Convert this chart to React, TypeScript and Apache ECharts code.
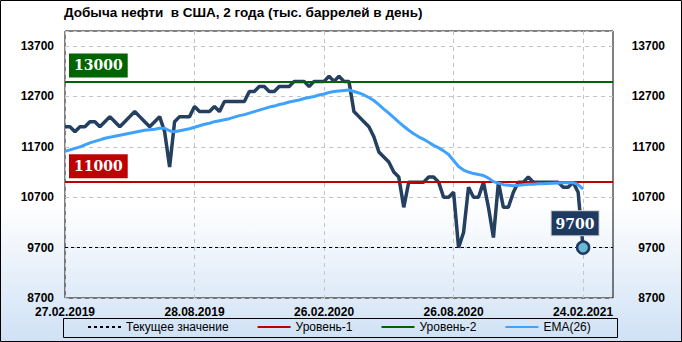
import React, { useEffect, useRef } from "react";
import * as echarts from "echarts";

const TITLE = "Добыча нефти  в США, 2 года (тыс. баррелей в день)";
const START_DATE = "2019-02-27";
const TOTAL_WEEKS = 111; // axis length in weekly categories (data + empty space on the right)

const production: number[] = [
  12100, 12100, 12000, 12100, 12100, 12200, 12200, 12100, 12200, 12300,
  12200, 12100, 12200, 12300, 12400, 12300, 12200, 12100, 12200, 12300,
  12000, 11300, 12200, 12300, 12300, 12300, 12500, 12400, 12400, 12400,
  12500, 12400, 12600, 12600, 12600, 12600, 12600, 12800, 12800, 12900,
  12900, 12800, 12800, 12900, 12900, 12900, 13000, 13000, 13000, 12900,
  13000, 13000, 13000, 13100, 13000, 13100, 13000, 13000, 12400, 12300,
  12200, 12100, 11900, 11600, 11500, 11400, 11200, 11100, 10500, 11000,
  11000, 11000, 11000, 11100, 11100, 11000, 10700, 10700, 10800, 9700,
  10000, 10900, 10700, 10700, 11000, 10500, 9900, 11000, 10500, 10500,
  10800, 11000, 11000, 11100, 11000, 11000, 11000, 11000, 11000, 11000,
  10900, 10900, 11000, 10800, 9700,
];

const ema26: number[] = [
  11610, 11640, 11670, 11700, 11740, 11780, 11810, 11840, 11870, 11890,
  11910, 11930, 11950, 11970, 11990, 12010, 12030, 12040, 12050, 12070,
  12070, 12020, 12000, 12020, 12040, 12060, 12090, 12120, 12150, 12170,
  12200, 12220, 12240, 12260, 12290, 12320, 12340, 12370, 12400, 12430,
  12460, 12490, 12510, 12540, 12560, 12590, 12610, 12630, 12660, 12680,
  12700, 12730, 12750, 12780, 12800, 12810, 12820, 12830, 12800, 12770,
  12730, 12680, 12620, 12540, 12450, 12370, 12280, 12190, 12110, 12030,
  11960, 11900, 11850, 11790, 11730, 11680, 11620, 11550, 11430, 11310,
  11240, 11200, 11170, 11150, 11130, 11080, 11010, 10980, 10950, 10940,
  10930, 10940, 10950, 10960, 10960, 10970, 10970, 10975, 10980, 10985,
  10990, 10990, 10990, 10950, 10860,
];

const LEVEL_1 = 11000;
const LEVEL_2 = 13000;
const Y_MIN = 8700;
const Y_MAX = 14000;
const Y_STEP = 1000;
const LABEL_EVERY = 26;

const LEGEND_NAMES = ["Текущее значение", "Уровень-1", "Уровень-2", "EMA(26)"];

function weeklyCategories(start: string, n: number): string[] {
  const out: string[] = [];
  const t0 = Date.parse(start + "T00:00:00Z");
  for (let i = 0; i < n; i++) {
    const d = new Date(t0 + i * 7 * 86400000);
    const dd = String(d.getUTCDate()).padStart(2, "0");
    const mm = String(d.getUTCMonth() + 1).padStart(2, "0");
    out.push(`${dd}.${mm}.${d.getUTCFullYear()}`);
  }
  return out;
}

const categories = weeklyCategories(START_DATE, TOTAL_WEEKS);

export default function App() {
  const ref = useRef<HTMLDivElement>(null);

  useEffect(() => {
    document.body.style.margin = "0";
    if (!ref.current) return;
    const chart = echarts.init(ref.current, null, { renderer: "svg" });
    const lastIdx = production.length - 1;
    const lastVal = production[lastIdx];

    const boxLabel = (bg: string, text: string) => ({
      show: true,
      position: "insideStartTop",
      formatter: text,
      backgroundColor: bg,
      color: "#ffffff",
      fontFamily: "DejaVu Serif",
      fontWeight: "bold",
      fontSize: 14,
      lineHeight: 16,
      padding: [4, 5, 4, 5],
      distance: 4,
    });

    const axisLabelStyle = {
      color: "#000",
      fontFamily: "Liberation Sans",
      fontWeight: "bold",
      fontSize: 12,
      lineHeight: 12,
    };
    const plain = (v: number) => String(v);

    chart.setOption({
      animation: false,
      backgroundColor: {
        type: "linear",
        x: 0,
        y: 0,
        x2: 0,
        y2: 1,
        colorStops: [
          { offset: 0, color: "#ffffff" },
          { offset: 0.6, color: "#ffffff" },
          { offset: 1, color: "#cfe1f5" },
        ],
      },
      title: {
        text: TITLE,
        left: 64,
        top: 5,
        padding: 0,
        textStyle: {
          fontFamily: "Liberation Sans",
          fontWeight: "bold",
          fontSize: 13.5,
          color: "#000",
        },
      },
      grid: {
        left: 65,
        right: 69,
        top: 31,
        bottom: 44,
        show: true,
        borderColor: "#000",
        borderWidth: 1,
        backgroundColor: "transparent",
      },
      legend: {
        data: LEGEND_NAMES,
        left: 87,
        top: 321,
        padding: 0,
        itemWidth: 33,
        itemHeight: 12,
        itemGap: 28,
        itemStyle: { opacity: 0 },
        textStyle: { fontFamily: "Liberation Sans", fontSize: 12, color: "#000" },
        selectedMode: false,
      },
      graphic: [
        {
          type: "rect",
          shape: { x: 63.5, y: 318.5, width: 554, height: 19 },
          style: { fill: "none", stroke: "#000", lineWidth: 1 },
          silent: true,
        },
        {
          type: "rect",
          shape: { x: 0.5, y: 0.5, width: 681, height: 341 },
          style: { fill: "none", stroke: "#000", lineWidth: 1 },
          silent: true,
        },
      ],
      xAxis: {
        type: "category",
        boundaryGap: false,
        data: categories,
        axisLine: { show: false },
        axisTick: { show: false },
        axisLabel: { ...axisLabelStyle, interval: LABEL_EVERY - 1, margin: 8 },
        splitLine: {
          show: true,
          interval: LABEL_EVERY - 1,
          lineStyle: { color: "#c4c4c4", type: [4, 4], width: 1 },
        },
      },
      yAxis: [
        {
          type: "value",
          position: "left",
          min: Y_MIN,
          max: Y_MAX,
          interval: Y_STEP,
          axisLine: { show: false },
          axisTick: { show: false },
          axisLabel: { ...axisLabelStyle, formatter: plain, showMaxLabel: false, margin: 11 },
          splitLine: { show: true, lineStyle: { color: "#c4c4c4", type: [4, 4], width: 1 } },
        },
        {
          type: "value",
          position: "right",
          min: Y_MIN,
          max: Y_MAX,
          interval: Y_STEP,
          axisLine: { show: false },
          axisTick: { show: false },
          axisLabel: {
            ...axisLabelStyle,
            formatter: plain,
            showMaxLabel: false,
            align: "right",
            margin: 52,
          },
          splitLine: { show: false },
        },
      ],
      series: [
        {
          name: "Добыча",
          type: "line",
          data: production,
          symbol: "none",
          z: 3,
          lineStyle: { color: "#243f60", width: 3.5 },
          itemStyle: { color: "#243f60" },
          markPoint: {
            symbol: "circle",
            symbolSize: 12,
            z: 20,
            itemStyle: { color: "#6ab8d4", borderColor: "#1f3a5f", borderWidth: 2.5 },
            label: {
              show: true,
              position: "top",
              distance: 5,
              offset: [-8, 0],
              formatter: String(lastVal),
              backgroundColor: "#1f3a5f",
              borderColor: "#d0d0d0",
              borderWidth: 1,
              color: "#ffffff",
              fontFamily: "DejaVu Serif",
              fontWeight: "bold",
              fontSize: 14,
              lineHeight: 17,
              padding: [4, 4, 3, 4],
            },
            data: [{ coord: [categories[lastIdx], lastVal], value: lastVal }],
          },
        },
        {
          name: "Текущее значение",
          type: "line",
          data: [],
          symbol: "none",
          z: 4,
          color: "#000",
          lineStyle: { color: "#000", width: 1, type: [3, 3] },
          markLine: {
            silent: true,
            symbol: ["none", "none"],
            label: { show: false },
            lineStyle: { color: "#000", width: 1, type: [3, 3] },
            data: [{ yAxis: lastVal }],
          },
        },
        {
          name: "Уровень-1",
          type: "line",
          data: [],
          symbol: "none",
          z: 4,
          color: "#c00000",
          lineStyle: { color: "#c00000", width: 3 },
          markLine: {
            silent: true,
            symbol: ["none", "none"],
            label: boxLabel("#c00000", String(LEVEL_1)),
            lineStyle: { color: "#c00000", width: 2, type: "solid" },
            data: [{ yAxis: LEVEL_1 }],
          },
        },
        {
          name: "Уровень-2",
          type: "line",
          data: [],
          symbol: "none",
          z: 4,
          color: "#006400",
          lineStyle: { color: "#006400", width: 3 },
          markLine: {
            silent: true,
            symbol: ["none", "none"],
            label: boxLabel("#006400", String(LEVEL_2)),
            lineStyle: { color: "#006400", width: 2, type: "solid" },
            data: [{ yAxis: LEVEL_2 }],
          },
        },
        {
          name: "EMA(26)",
          type: "line",
          data: ema26,
          symbol: "none",
          z: 5,
          color: "#3fa2ff",
          lineStyle: { color: "#3fa2ff", width: 3 },
        },
      ],
    });

    return () => chart.dispose();
  }, []);

  return <div ref={ref} style={{ width: 682, height: 342 }} />;
}
